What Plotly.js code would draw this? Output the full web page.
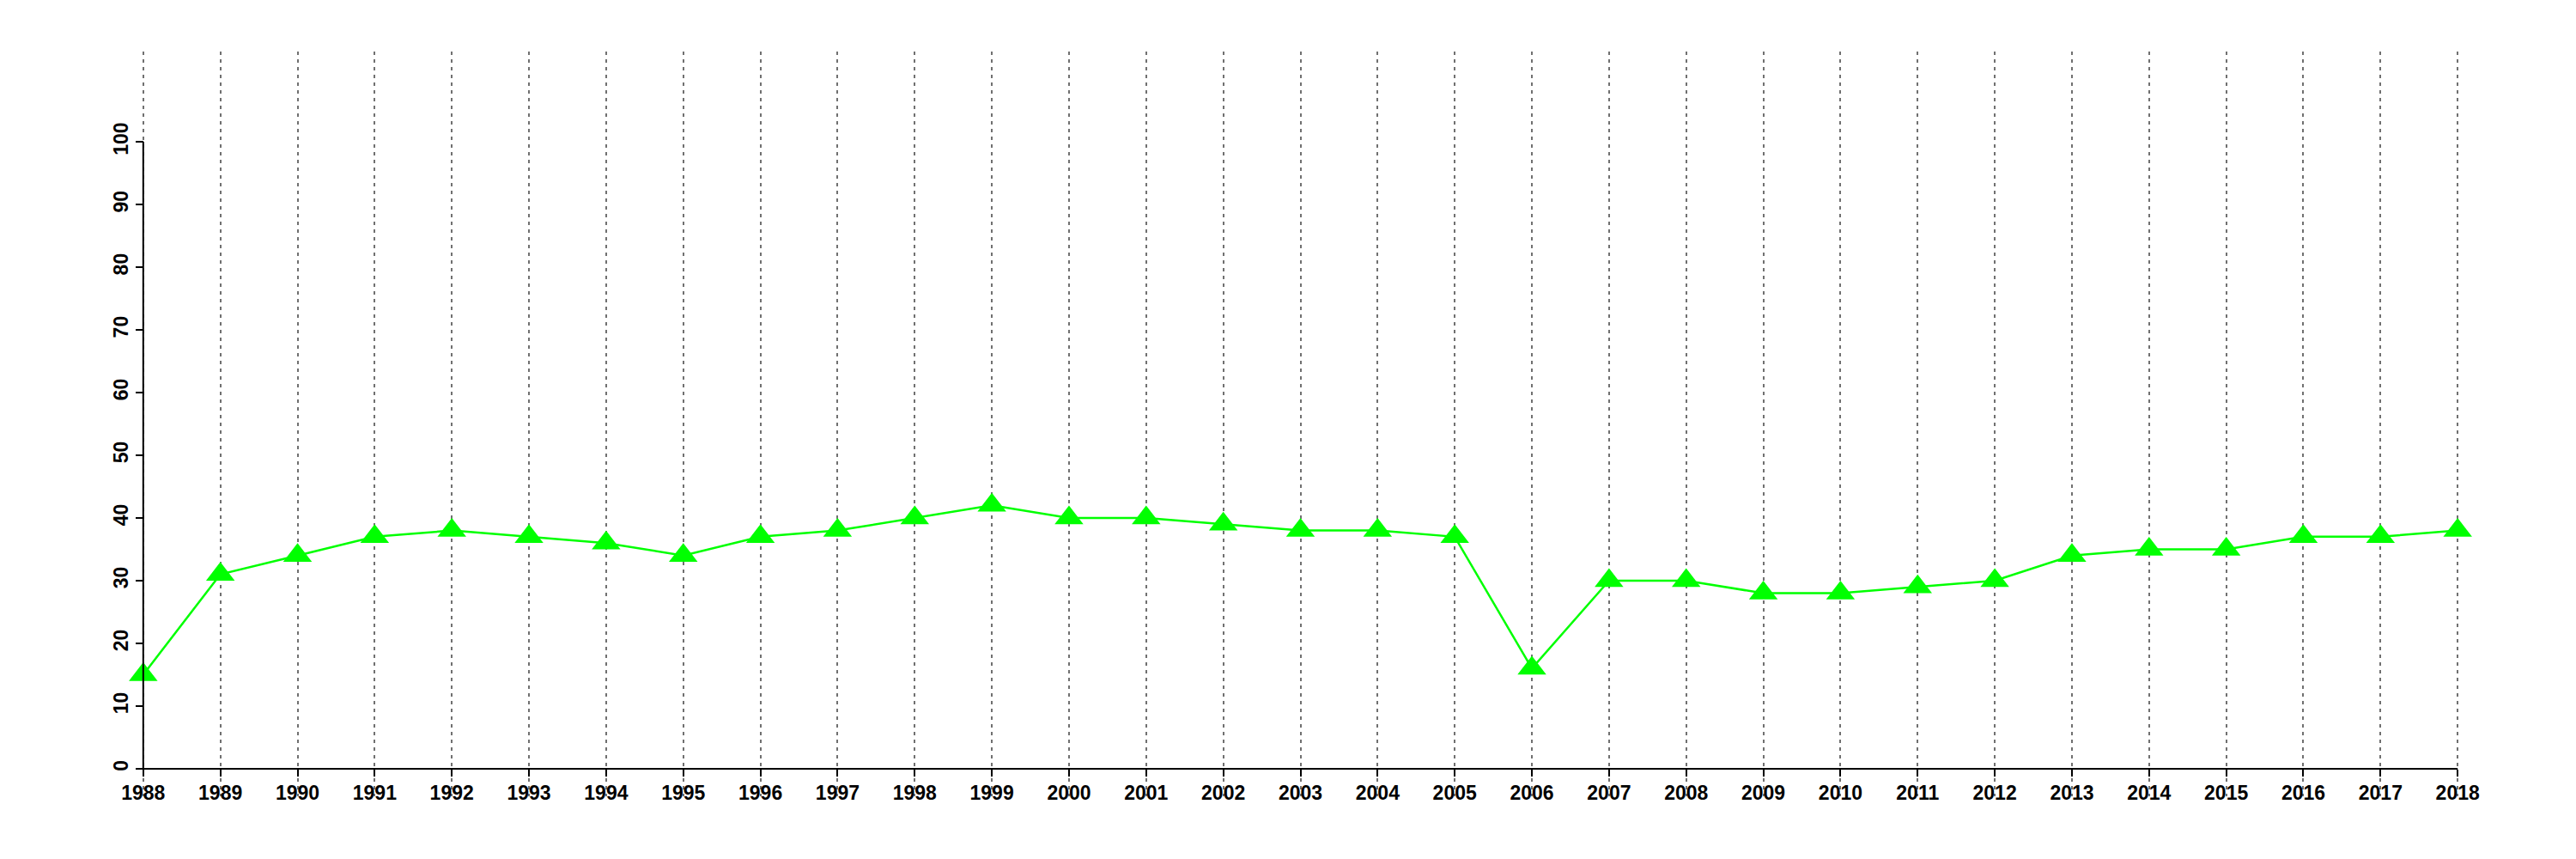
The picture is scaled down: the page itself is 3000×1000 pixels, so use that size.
<!DOCTYPE html>
<html>
<head>
<meta charset="utf-8">
<script src="https://cdn.plot.ly/plotly-3.0.1.min.js"></script>
<style>html,body{margin:0;padding:0;background:#fff;}#chart{width:3000px;height:1000px;}</style>
</head>
<body>
<div id="chart"></div>
<script>
const years = [1988,1989,1990,1991,1992,1993,1994,1995,1996,1997,1998,1999,2000,2001,2002,2003,2004,2005,2006,2007,2008,2009,2010,2011,2012,2013,2014,2015,2016,2017,2018];
const values = [15,31,34,37,38,37,36,34,37,38,40,42,40,40,39,38,38,37,16,30,30,28,28,29,30,34,35,35,37,37,38];
const yTicks = [0,10,20,30,40,50,60,70,80,90,100];
const xTickLabels = years.map(String);

const xMin = years[0], xMax = years[years.length-1];
const yMin = yTicks[0], yMax = yTicks[yTicks.length-1];
const xPad = (xMax - xMin) * 0.04;
const yTop = 110, yPad = (yTop - yMin) * 0.04;
const xRange = [xMin - xPad, xMax + xPad];
const yRange = [yMin - yPad, yTop + yPad];

const tickFont = {family: 'Liberation Sans, Arial, sans-serif', size: 23, color: '#000', weight: 'bold'};

const trace = {
  x: years, y: values, type: 'scatter', mode: 'lines+markers',
  line: {color: '#00ff00', width: 2.5},
  marker: {symbol: 'triangle-up', size: 29, color: '#00ff00'},
  cliponaxis: false, showlegend: false, hoverinfo: 'skip'
};

const layout = {
  width: 3000, height: 1000,
  margin: {l: 59, r: 30, t: 60, b: 73, pad: 0},
  paper_bgcolor: '#fff', plot_bgcolor: '#fff',
  showlegend: false,
  xaxis: {
    range: xRange, anchor: 'free', position: (yMin - yRange[0]) / (yRange[1] - yRange[0]),
    tickmode: 'array', tickvals: years, ticktext: xTickLabels,
    ticks: 'outside', ticklen: 8, tickwidth: 2, tickcolor: '#000',
    showgrid: true, gridcolor: '#707070', gridwidth: 2, griddash: '4px,5px',
    showline: false, zeroline: false, tickfont: tickFont, tickangle: 0
  },
  yaxis: {
    range: yRange, anchor: 'free', position: (xMin - xRange[0]) / (xRange[1] - xRange[0]),
    tickmode: 'array', tickvals: yTicks, ticktext: yTicks.map(String),
    ticks: 'outside', ticklen: 9, tickwidth: 2, tickcolor: '#000',
    showgrid: false, showline: false, zeroline: false,
    tickfont: tickFont, tickangle: -90
  },
  shapes: [
    {type: 'line', xref: 'x', yref: 'y', x0: xMin, x1: xMax, y0: yMin, y1: yMin, line: {color: '#000', width: 2}, layer: 'above'},
    {type: 'line', xref: 'x', yref: 'y', x0: xMin, x1: xMin, y0: yMin, y1: yMax, line: {color: '#000', width: 2}, layer: 'above'}
  ]
};

Plotly.newPlot('chart', [trace], layout, {staticPlot: true, displayModeBar: false});
</script>
</body>
</html>
